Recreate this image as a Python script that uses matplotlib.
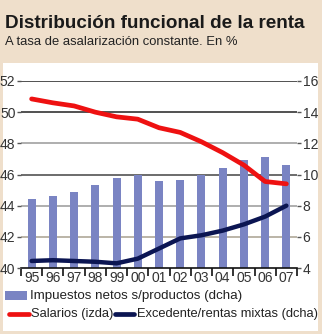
import matplotlib
matplotlib.use("Agg")
import matplotlib.pyplot as plt
from matplotlib.patches import Rectangle
from matplotlib.lines import Line2D
import numpy as np

years = ["95", "96", "97", "98", "99", "00", "01", "02", "03", "04", "05", "06", "07"]
impuestos = [8.45, 8.6, 8.9, 9.3, 9.8, 9.95, 9.6, 9.65, 10.0, 10.4, 10.9, 11.1, 10.6]
salarios = [50.85, 50.6, 50.4, 50.0, 49.7, 49.55, 49.0, 48.7, 48.1, 47.4, 46.6, 45.55, 45.4]
excedente = [4.45, 4.5, 4.45, 4.4, 4.3, 4.6, 5.25, 5.9, 6.1, 6.4, 6.8, 7.3, 8.0]
left_ticks = [40, 42, 44, 46, 48, 50, 52]
right_ticks = [4, 6, 8, 10, 12, 14, 16]

FONT = ["Liberation Sans", "DejaVu Sans"]
plt.rcParams["font.family"] = FONT

W, H = 322, 334
fig = plt.figure(figsize=(W / 100, H / 100), dpi=100)
fig.patch.set_facecolor("#efdfcb")
fig.add_artist(Rectangle((3 / W, 3 / H), 315 / W, (H - 63 - 3) / H,
                         transform=fig.transFigure, facecolor="white", edgecolor="none", zorder=0))

fig.text(5 / W, 1 - 23 / H, "Distribución funcional de la renta", fontsize=13.6,
         fontweight="bold", color="#1a1a1a", va="center", ha="left")
fig.text(5 / W, 1 - 42 / H, "A tasa de asalarización constante. En %", fontsize=9.4,
         color="#222222", va="center", ha="left")

ax = fig.add_axes([21 / W, 1 - 268 / H, 276 / W, 187 / H])
ax.set_facecolor("none")
x = np.arange(len(years))
ax.set_xlim(-0.5, len(years) - 0.5)
ax.set_ylim(4, 16)

grid_colors = {16: "#222222", 14: "#222222", 12: "#999999", 10: "#444444", 8: "#999999", 6: "#a8a090"}
for v, c in grid_colors.items():
    ax.axhline(v, color=c, lw=1.1, zorder=1)

ax.bar(x, impuestos, width=0.38, color="#7a84c3", zorder=2)
ax.plot(x, excedente, color="#0b1552", lw=3.2, solid_capstyle="round", zorder=3)

ax2 = ax.twinx()
ax2.set_ylim(40, 52)
ax2.plot(x, salarios, color="#ee1111", lw=3.4, solid_capstyle="round", zorder=4)

for a in (ax, ax2):
    for s in a.spines.values():
        s.set_visible(False)

ax.spines["bottom"].set_visible(True)
ax.spines["bottom"].set_color("#111111")
ax.spines["bottom"].set_linewidth(1.2)

ax.yaxis.tick_right()
ax.set_yticks(right_ticks)
ax.set_yticklabels([str(t) for t in right_ticks])
ax.tick_params(axis="y", length=3, width=1, color="#555555", pad=1, labelsize=10, labelcolor="#333333")

ax2.yaxis.tick_left()
ax2.set_yticks(left_ticks)
ax2.set_yticklabels([str(t) for t in left_ticks])
ax2.tick_params(axis="y", length=3, width=1, color="#555555", pad=1, labelsize=10, labelcolor="#333333")

ax.set_xticks(np.arange(-0.5, len(years), 1.0))
ax.set_xticklabels([])
ax.set_xticks(x, minor=True)
ax.set_xticklabels(years, minor=True)
ax.tick_params(axis="x", which="major", direction="out", length=6, width=1.2, color="#111111")
ax.tick_params(axis="x", which="minor", length=0, pad=2, labelsize=10, labelcolor="#333333")

# legend
fig.add_artist(Rectangle((5 / W, 1 - 300 / H), 22 / W, 9 / H, transform=fig.transFigure,
                         facecolor="#7a84c3", edgecolor="none"))
fig.text(30 / W, 1 - 296 / H, "Impuestos netos s/productos (dcha)", fontsize=9.6,
         color="#222222", va="center", ha="left")
fig.add_artist(Line2D([9 / W, 29 / W], [1 - 314 / H, 1 - 314 / H], transform=fig.transFigure,
                      color="#ee1111", lw=3.4, solid_capstyle="round"))
fig.text(31 / W, 1 - 314 / H, "Salarios (izda)", fontsize=9.3, color="#222222", va="center", ha="left")
fig.add_artist(Line2D([115 / W, 134 / W], [1 - 314 / H, 1 - 314 / H], transform=fig.transFigure,
                      color="#0b1552", lw=3.4, solid_capstyle="round"))
fig.text(137 / W, 1 - 314 / H, "Excedente/rentas mixtas (dcha)", fontsize=9.3, color="#222222",
         va="center", ha="left")

fig.savefig("out.png", dpi=100, facecolor=fig.get_facecolor())
